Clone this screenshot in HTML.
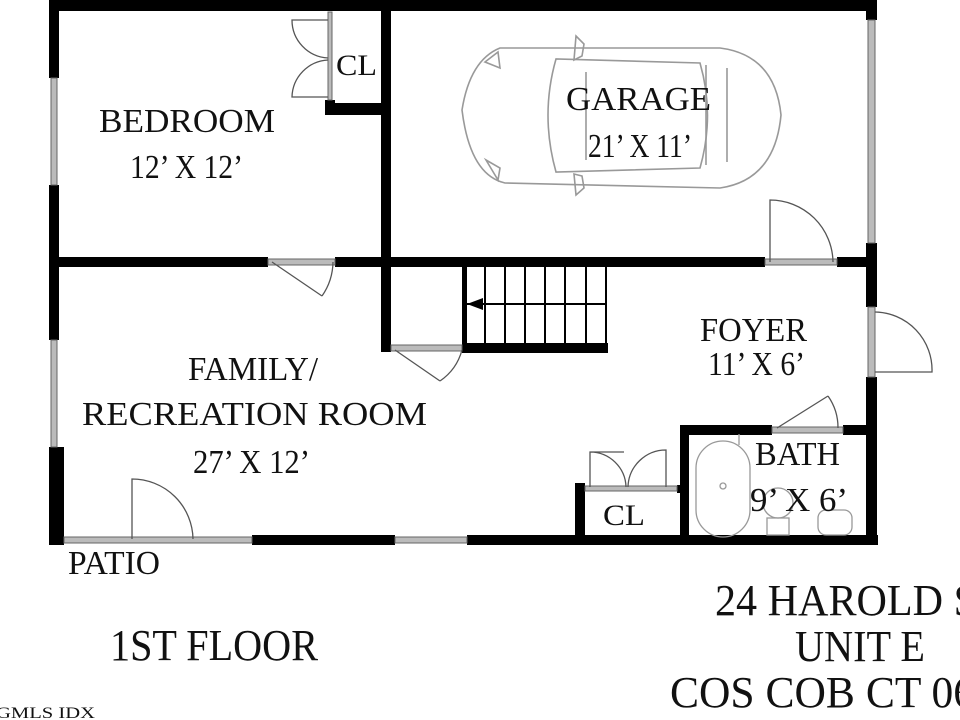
<!DOCTYPE html>
<html><head><meta charset="utf-8"><style>
html,body{margin:0;padding:0;background:#fff;width:960px;height:720px;overflow:hidden}
svg{display:block}
text{font-family:"Liberation Serif",serif;fill:#111}
</style></head><body>
<svg width="960" height="720" viewBox="0 0 960 720" xmlns="http://www.w3.org/2000/svg">
<rect width="960" height="720" fill="#fff"/>
<!-- walls -->
<g fill="#000">
<rect x="49" y="0" width="828" height="11"/>
<rect x="49" y="0" width="10" height="78"/>
<rect x="49" y="185" width="10" height="155"/>
<rect x="49" y="447" width="15" height="98"/>
<rect x="866" y="0" width="11" height="20"/>
<rect x="866" y="243" width="11" height="64"/>
<rect x="866" y="377" width="11" height="168"/>
<rect x="59" y="257" width="209" height="10"/>
<rect x="335" y="257" width="430" height="10"/>
<rect x="837" y="257" width="30" height="10"/>
<rect x="381" y="0" width="10" height="267"/>
<rect x="381" y="267" width="10" height="85"/>
<rect x="325" y="103" width="56" height="12"/>
<rect x="325" y="100" width="10" height="15"/>
<rect x="462" y="343" width="146" height="10"/>
<rect x="462" y="267" width="5" height="80"/>
<rect x="252" y="535" width="143" height="10"/>
<rect x="467" y="535" width="411" height="10"/>
<rect x="680" y="425" width="92" height="10"/>
<rect x="843" y="425" width="24" height="10"/>
<rect x="680" y="425" width="9" height="115"/>
<rect x="575" y="483" width="10" height="57"/>
<rect x="677" y="485" width="8" height="8"/>
</g>
<!-- windows / thin lines -->
<g fill="#bbb" stroke="#666" stroke-width="1">
<rect x="51" y="78" width="6" height="107"/>
<rect x="51" y="340" width="6" height="107"/>
<rect x="868" y="20" width="7" height="223"/>
<rect x="868" y="307" width="7" height="70"/>
<rect x="64" y="537" width="188" height="6"/>
<rect x="395" y="537" width="72" height="6"/>
<rect x="268" y="259" width="67" height="6"/>
<rect x="765" y="259" width="72" height="6"/>
<rect x="772" y="427" width="71" height="6"/>
<rect x="328" y="12" width="4" height="88"/>
<rect x="391" y="345" width="71" height="6"/>
<rect x="585" y="486" width="92" height="5"/>
</g>
<!-- doors -->
<g fill="none" stroke="#555" stroke-width="1.3">
<path d="M132 539 V479 A61 61 0 0 1 193 539"/>
<path d="M770 262 V200 A63 63 0 0 1 833 262"/>
<path d="M272 262 L322 296 M333 262 A61 61 0 0 1 322 296"/>
<path d="M875 312 A58 58 0 0 1 932 372 H875"/>
<path d="M395 350 L440 381 M462 350 A55 55 0 0 1 440 381"/>
<path d="M777 428 L828 396 M838 428 A55 55 0 0 0 828 396"/>
<path d="M328 20 H292 A38 38 0 0 0 328 58 M328 97 H292 A38 38 0 0 1 328 60"/>
<path d="M590 487 V452 H624 M590 452 A36 36 0 0 1 626 487 M666 487 V450 A38 38 0 0 0 628 487"/>
</g>
<!-- stairs -->
<g stroke="#000" stroke-width="2" fill="none">
<path d="M485 267 V343 M505 267 V343 M525 267 V343 M545 267 V343 M565 267 V343 M586 267 V343 M606 267 V343 M465 304 H606"/>
</g>
<polygon points="467,304 483,298 483,310" fill="#000"/>
<!-- car -->
<g fill="none" stroke="#999" stroke-width="1.6">
<path d="M500 48 Q470 60 462 110 Q470 175 505 183 L720 188 Q775 180 781 115 Q775 55 720 48 Z"/>
<path d="M556 59 Q540 115 556 172 L700 168 Q715 115 700 63 Z"/>
<path d="M586 72 V160 M706 65 V165 M727 68 V162"/>
<path d="M485 62 L498 52 L500 68 Z M486 160 L500 168 L498 180 Z"/>
<path d="M576 36 L584 44 L582 56 L574 60 Z M576 195 L584 188 L582 176 L574 174 Z"/>
</g>
<!-- bath fixtures -->
<g fill="none" stroke="#999" stroke-width="1.3">
<rect x="696" y="441" width="54" height="96" rx="27"/>
<circle cx="723" cy="486" r="3"/>
<circle cx="778" cy="503" r="15"/>
<rect x="767" y="518" width="22" height="17"/>
<rect x="818" y="510" width="34" height="25" rx="8"/>
<path d="M739 434 V445"/>
</g>
<!-- labels -->
<text x="99" y="132" font-size="34" textLength="176" lengthAdjust="spacingAndGlyphs">BEDROOM</text>
<text x="130" y="178" font-size="34" textLength="113" lengthAdjust="spacingAndGlyphs">12’ X 12’</text>
<text x="336" y="75" font-size="30" textLength="41" lengthAdjust="spacingAndGlyphs">CL</text>
<text x="566" y="110" font-size="34" textLength="145" lengthAdjust="spacingAndGlyphs">GARAGE</text>
<text x="588" y="157" font-size="34" textLength="104" lengthAdjust="spacingAndGlyphs">21’ X 11’</text>
<text x="700" y="341" font-size="34" textLength="107" lengthAdjust="spacingAndGlyphs">FOYER</text>
<text x="708" y="375" font-size="34" textLength="97" lengthAdjust="spacingAndGlyphs">11’ X 6’</text>
<text x="188" y="380" font-size="34" textLength="130" lengthAdjust="spacingAndGlyphs">FAMILY/</text>
<text x="82" y="425" font-size="34" textLength="345" lengthAdjust="spacingAndGlyphs">RECREATION ROOM</text>
<text x="193" y="473" font-size="34" textLength="117" lengthAdjust="spacingAndGlyphs">27’ X 12’</text>
<text x="755" y="465" font-size="34" textLength="85" lengthAdjust="spacingAndGlyphs">BATH</text>
<text x="750" y="511" font-size="34" textLength="98" lengthAdjust="spacingAndGlyphs">9’ X 6’</text>
<text x="603" y="525" font-size="30" textLength="42" lengthAdjust="spacingAndGlyphs">CL</text>
<text x="68" y="574" font-size="34" textLength="92" lengthAdjust="spacingAndGlyphs">PATIO</text>
<text x="110" y="660" font-size="44" textLength="208" lengthAdjust="spacingAndGlyphs">1ST FLOOR</text>
<text x="715" y="615" font-size="44" textLength="262" lengthAdjust="spacingAndGlyphs">24 HAROLD S</text>
<text x="795" y="661" font-size="44" textLength="130" lengthAdjust="spacingAndGlyphs">UNIT E</text>
<text x="670" y="707" font-size="44" textLength="305" lengthAdjust="spacingAndGlyphs">COS COB CT 06</text>
<text x="-4" y="718" font-size="16" fill="#333" textLength="99" lengthAdjust="spacingAndGlyphs">GMLS IDX</text>
</svg>
</body></html>
